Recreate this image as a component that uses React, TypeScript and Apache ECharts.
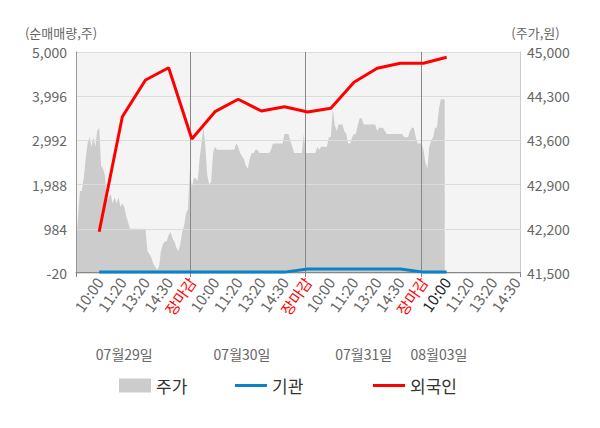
import React, { useEffect, useRef } from "react";
import * as echarts from "echarts";

const dayNames = ["07월29일", "07월30일", "07월31일", "08월03일"];
const slotNames = ["10:00", "11:20", "13:20", "14:30", "장마감"];
const pointsPerSlot = 12;
const totalPoints = 231;
const dayLineIdx = [59, 119, 179];
const axisTickIdx = [0, 59, 119, 179, 230];
const dateLabelIdx = [25, 86, 149, 188];
const highlightKey = "08월03일|10:00";

// 주가 (원), one value per category index from the first point
const price = [
  42000, 42350, 42800, 42800, 43000, 43300, 43550, 43650, 43500, 43650, 43500, 43750,
  43800, 43200, 43150, 43050, 42650, 42700, 42750, 42600, 42700, 42600, 42700, 42550,
  42600, 42550, 42400, 42300, 42200, 42200, 42200, 42200, 42200, 42200, 42200, 42200,
  42200, 41850, 41800, 41750, 41650, 41600, 41550, 41600, 41850, 41950, 42000, 42000,
  42100, 42150, 42050, 42000, 41900, 41850, 41950, 42150, 42250, 42450, 42500, 43150,
  42850, 43000, 43000, 42950, 43300, 43550, 43800, 43500, 43050, 42900, 42950, 43400,
  43500, 43450, 43450, 43450, 43450, 43450, 43450, 43450, 43450, 43450, 43450, 43550,
  43500, 43400, 43350, 43300, 43200, 43150, 43300, 43400, 43400, 43450, 43450, 43400,
  43400, 43400, 43400, 43400, 43400, 43450, 43550, 43550, 43550, 43550, 43550, 43550,
  43700, 43700, 43700, 43600, 43500, 43400, 43400, 43400, 43400, 43400, 43700, 43400,
  43400, 43400, 43400, 43400, 43400, 43500, 43450, 43500, 43500, 43500, 43500, 43650,
  43650, 44100, 43850, 43750, 43850, 43850, 43850, 43750, 43700, 43550, 43550, 43650,
  43700, 43700, 43850, 43950, 43950, 43850, 43850, 43850, 43850, 43850, 43850, 43850,
  43750, 43800, 43800, 43800, 43750, 43700, 43700, 43700, 43700, 43700, 43700, 43700,
  43700, 43700, 43650, 43650, 43650, 43750, 43800, 43800, 43650, 43550, 43550, 43550,
  43450, 43250, 43150, 43500, 43600, 43650, 43800, 43800, 44100, 44250, 44250, 44250,
];

// 순매매량 (주), at each labelled time (10:00 of 07/29 ... 10:00 of 08/03)
const institution = [0, 0, 0, 0, 0, 0, 0, 0, 0, 70, 70, 70, 70, 70, 0, 0];
const foreign = [918, 3530, 4364, 4643, 3024, 3644, 3926, 3660, 3757, 3637, 3721, 4312, 4630, 4743, 4743, 4880];

const leftTicks = { min: -20, max: 5000, interval: 1004 };
const rightTicks = { min: 41500, max: 45000, interval: 700 };

const FONT = "'Noto Sans CJK KR', 'Noto Sans', sans-serif";

function buildCategories(): string[] {
  const out: string[] = [];
  for (let i = 0; i < totalPoints; i++) {
    const d = i === 0 ? 0 : Math.min(dayNames.length - 1, Math.floor((i - 1) / (pointsPerSlot * 5)));
    const isLabel = i > 0 && i % pointsPerSlot === 0;
    const t = isLabel ? slotNames[(i / pointsPerSlot - 1) % slotNames.length] : "#" + i;
    out.push(dayNames[d] + "|" + t);
  }
  return out;
}

const fmt = (v: number) => Math.round(v).toLocaleString("en-US");

const legendText = { fontSize: 17, color: "#333", fontFamily: FONT };

export default function App() {
  const ref = useRef<HTMLDivElement>(null);
  useEffect(() => {
    if (!ref.current) return;
    const chart = echarts.init(ref.current, undefined, { renderer: "svg" });
    const categories = buildCategories();
    const flowIdx = foreign.map((_, j) => (j + 1) * pointsPerSlot);
    const option: any = {
      animation: false,
      textStyle: { fontFamily: FONT },
      grid: {
        left: 76,
        right: 80,
        top: 52,
        bottom: 155,
        show: true,
        backgroundColor: "#f4f4f4",
        borderWidth: 0,
      },
      legend: [
        {
          data: [{ name: "주가", icon: "rect" }],
          left: 114,
          top: 372,
          itemWidth: 32,
          itemHeight: 14,
          itemGap: 5,
          textStyle: legendText,
        },
        {
          data: [{ name: "기관", icon: "rect" }],
          left: 230,
          top: 372,
          itemWidth: 32,
          itemHeight: 3,
          textStyle: legendText,
        },
        {
          data: [{ name: "외국인", icon: "rect" }],
          left: 368,
          top: 372,
          itemWidth: 32,
          itemHeight: 3,
          textStyle: legendText,
        },
      ],
      xAxis: [
        {
          type: "category",
          data: categories,
          boundaryGap: false,
          z: 3,
          axisLine: { show: true, lineStyle: { color: "#888", width: 1 } },
          axisTick: {
            show: true,
            length: 5,
            interval: (i: number) => axisTickIdx.includes(i),
            lineStyle: { color: "#888" },
          },
          splitLine: {
            show: true,
            interval: (i: number) => dayLineIdx.includes(i),
            lineStyle: { color: "#888", width: 1 },
          },
          axisLabel: {
            interval: (i: number) => i > 0 && i % pointsPerSlot === 0,
            rotate: 55,
            margin: 6,
            fontSize: 15,
            fontFamily: FONT,
            formatter: (v: string) => v.split("|")[1],
            color: (v: string) =>
              v === highlightKey ? "#222" : v.indexOf("장마감") >= 0 ? "#ff0000" : "#666",
          },
        },
        {
          type: "category",
          data: categories,
          boundaryGap: false,
          position: "bottom",
          offset: 66,
          axisLine: { show: false },
          axisTick: { show: false },
          splitLine: { show: false },
          axisLabel: {
            interval: (i: number) => dateLabelIdx.includes(i),
            margin: 8,
            fontSize: 14,
            color: "#666",
            fontFamily: FONT,
            formatter: (v: string) => v.split("|")[0],
          },
        },
      ],
      yAxis: [
        {
          type: "value",
          min: leftTicks.min,
          max: leftTicks.max,
          interval: leftTicks.interval,
          z: 3,
          name: "(순매매량,주)",
          nameLocation: "end",
          nameGap: 13,
          nameTextStyle: {
            color: "#666",
            fontSize: 13,
            fontFamily: FONT,
            align: "center",
            padding: [0, 30, 0, 0],
          },
          axisLine: { show: true, lineStyle: { color: "#999" } },
          axisTick: { show: false },
          splitLine: { show: true, lineStyle: { color: "#dcdcdc", width: 1 } },
          axisLabel: { fontSize: 14, color: "#666", margin: 9, fontFamily: FONT, formatter: fmt },
        },
        {
          type: "value",
          min: rightTicks.min,
          max: rightTicks.max,
          interval: rightTicks.interval,
          position: "right",
          z: 3,
          name: "(주가,원)",
          nameLocation: "end",
          nameGap: 13,
          nameTextStyle: {
            color: "#666",
            fontSize: 13,
            fontFamily: FONT,
            align: "center",
            padding: [0, 0, 0, 31],
          },
          axisLine: { show: true, lineStyle: { color: "#ccc" } },
          axisTick: { show: false },
          splitLine: { show: false },
          axisLabel: { fontSize: 14, color: "#666", margin: 7, fontFamily: FONT, formatter: fmt },
        },
      ],
      series: [
        {
          name: "주가",
          type: "line",
          xAxisIndex: 0,
          yAxisIndex: 1,
          data: price,
          symbol: "none",
          z: 1,
          itemStyle: { color: "#cccccc" },
          lineStyle: { width: 0, color: "#cccccc" },
          areaStyle: { color: "#cccccc", opacity: 1 },
        },
        {
          name: "기관",
          type: "line",
          xAxisIndex: 0,
          yAxisIndex: 0,
          data: institution.map((v, j) => [flowIdx[j], v]),
          symbol: "none",
          z: 5,
          itemStyle: { color: "#0a82c8" },
          lineStyle: { width: 3, color: "#0a82c8" },
        },
        {
          name: "외국인",
          type: "line",
          xAxisIndex: 0,
          yAxisIndex: 0,
          data: foreign.map((v, j) => [flowIdx[j], v]),
          symbol: "none",
          z: 6,
          itemStyle: { color: "#ff0000" },
          lineStyle: { width: 3, color: "#ff0000" },
        },
      ],
    };
    chart.setOption(option);
    return () => chart.dispose();
  }, []);
  return (
    <div
      ref={ref}
      style={{ position: "absolute", left: 0, top: 0, width: 600, height: 428 }}
    />
  );
}
